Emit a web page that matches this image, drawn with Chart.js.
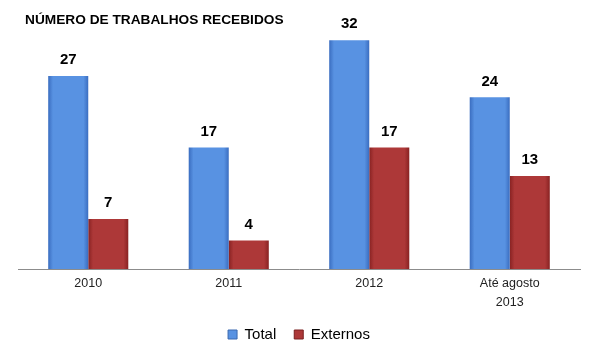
<!DOCTYPE html>
<html>
<head>
<meta charset="utf-8">
<script src="https://cdn.jsdelivr.net/npm/chart.js@4"></script>
<style>
html,body{margin:0;padding:0;background:#fff;}
#wrap{width:600px;height:360px;}
</style>
</head>
<body>
<div id="wrap"><canvas id="c" width="600" height="360"></canvas></div>
<script>
const title = 'NÚMERO DE TRABALHOS RECEBIDOS';
const categories = ['2010', '2011', '2012', ['Até agosto', '2013']];
const seriesNames = ['Total', 'Externos'];
const totalValues = [27, 17, 32, 24];
const externosValues = [7, 4, 17, 13];

const palette = {
  Total: {edge: '#3A6DC0', mid: '#5892E2', border: '#3A68B0'},
  Externos: {edge: '#882222', mid: '#AD3838', border: '#7A2020'}
};

function makeGrad(ctx, x0, x1, c) {
  const g = ctx.createLinearGradient(x0, 0, x1, 0);
  g.addColorStop(0, c.edge);
  g.addColorStop(0.12, c.mid);
  g.addColorStop(0.88, c.mid);
  g.addColorStop(1, c.edge);
  return g;
}

const gradientPlugin = {
  id: 'barGradient',
  beforeDatasetsDraw(chart) {
    const ctx = chart.ctx;
    chart.data.datasets.forEach((ds, i) => {
      const meta = chart.getDatasetMeta(i);
      const c = palette[ds.label];
      meta.data.forEach(el => {
        const x0 = el.x - el.width / 2, x1 = el.x + el.width / 2;
        el.options = Object.assign({}, el.options, {backgroundColor: makeGrad(ctx, x0, x1, c)});
      });
    });
  }
};

const valueLabelPlugin = {
  id: 'valueLabels',
  afterDatasetsDraw(chart) {
    const ctx = chart.ctx;
    ctx.save();
    ctx.font = 'bold 15px "Liberation Sans", Arial, sans-serif';
    ctx.fillStyle = '#000';
    ctx.textAlign = 'center';
    ctx.textBaseline = 'middle';
    chart.data.datasets.forEach((ds, i) => {
      const meta = chart.getDatasetMeta(i);
      meta.data.forEach((el, j) => {
        ctx.fillText(String(ds.data[j]), el.x, el.y - 16);
      });
    });
    ctx.restore();
  }
};

const titlePlugin = {
  id: 'leftTitle',
  afterDraw(chart) {
    const ctx = chart.ctx;
    ctx.save();
    ctx.font = 'bold 13.7px "Liberation Sans", Arial, sans-serif';
    ctx.fillStyle = '#000';
    ctx.textAlign = 'left';
    ctx.textBaseline = 'middle';
    ctx.fillText(title, 25, 20);
    ctx.restore();
  }
};

new Chart(document.getElementById('c'), {
  type: 'bar',
  data: {
    labels: categories,
    datasets: [
      {label: seriesNames[0], data: totalValues, backgroundColor: palette.Total.mid, borderColor: palette.Total.border, borderWidth: 0},
      {label: seriesNames[1], data: externosValues, backgroundColor: palette.Externos.mid, borderColor: palette.Externos.border, borderWidth: 0}
    ]
  },
  options: {
    responsive: false,
    animation: false,
    layout: {padding: {left: 18, right: 20, top: 33, bottom: 8}},
    datasets: {bar: {categoryPercentage: 0.57, barPercentage: 1.0}},
    scales: {
      x: {
        grid: {display: false, drawTicks: false, tickLength: 0},
        border: {display: true, color: '#8c8c8c', width: 1},
        ticks: {color: '#222', font: {family: '"Liberation Sans", Arial, sans-serif', size: 12.5, lineHeight: 1.5}, padding: 5, maxRotation: 0, autoSkip: false},
        afterFit(scale) { scale.height = 40; }
      },
      y: {
        display: false,
        min: 0,
        max: 33
      }
    },
    plugins: {
      title: {display: false},
      legend: {
        position: 'bottom',
        labels: {
          color: '#222',
          font: {family: '"Liberation Sans", Arial, sans-serif', size: 15},
          boxWidth: 9,
          boxHeight: 9,
          padding: 18,
          generateLabels(chart) {
            return chart.data.datasets.map((ds, i) => ({
              text: ds.label,
              fillStyle: palette[ds.label].mid,
              strokeStyle: palette[ds.label].border,
              lineWidth: 1,
              datasetIndex: i,
              hidden: false
            }));
          }
        }
      },
      tooltip: {enabled: false}
    }
  },
  plugins: [gradientPlugin, valueLabelPlugin, titlePlugin]
});
</script>
</body>
</html>
